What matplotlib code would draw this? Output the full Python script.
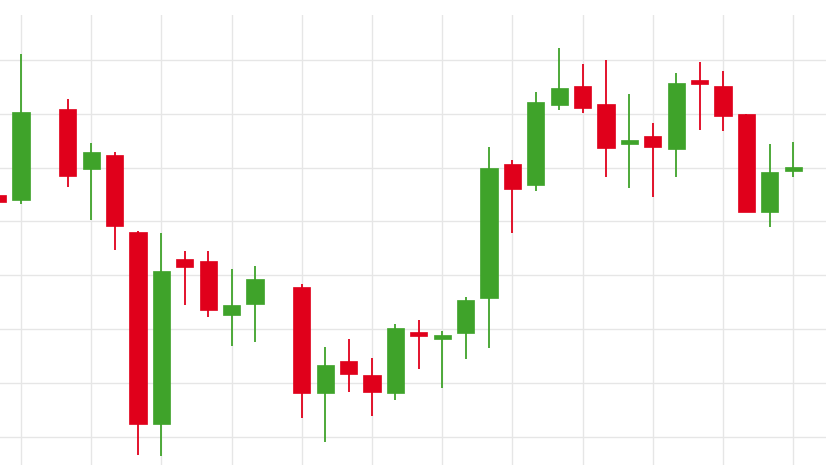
import matplotlib
matplotlib.use("Agg")
import matplotlib.pyplot as plt
import numpy as np

# candle positions (gaps at 1 and 11)
idx = [-1, 0, 2, 3, 4, 5, 6, 7, 8, 9, 10, 12, 13, 14, 15, 16, 17, 18, 19, 20,
       21, 22, 23, 24, 25, 26, 27, 28, 29, 30, 31, 32, 33]
opens = [144.9, 144.0, 160.9, 149.7, 152.3, 138.0, 102.4, 133.0, 132.7, 122.6, 124.7,
         127.8, 108.2, 114.1, 111.5, 108.2, 119.5, 118.2, 119.3, 125.8,
         150.6, 146.8, 161.6, 165.1, 161.8, 154.4, 155.8, 153.4, 166.2, 165.1, 159.9, 141.7, 149.4]
highs = [144.9, 171.1, 162.7, 154.5, 152.9, 138.2, 137.8, 134.5, 134.5, 131.2, 131.7,
         128.4, 116.7, 118.2, 114.7, 121.0, 121.7, 119.7, 126.0, 153.8,
         151.4, 164.0, 172.2, 169.2, 169.9, 163.6, 158.3, 167.5, 169.6, 167.9, 159.9, 154.4, 154.7]
lows = [143.6, 143.2, 146.4, 140.3, 134.7, 96.7, 96.5, 124.5, 122.3, 116.9, 117.6,
        103.5, 99.1, 108.3, 103.9, 106.9, 112.6, 109.1, 114.5, 116.5,
        137.8, 145.6, 160.7, 160.1, 148.2, 146.2, 144.5, 148.2, 157.0, 156.8, 141.7, 139.0, 148.2]
closes = [143.6, 160.3, 148.4, 152.9, 139.1, 102.4, 130.8, 131.5, 123.6, 124.5, 129.3,
          108.2, 113.4, 111.7, 108.3, 120.2, 118.7, 118.9, 125.4, 149.9,
          146.0, 162.2, 164.7, 161.0, 153.6, 155.1, 153.8, 165.7, 165.5, 159.6, 141.7, 149.2, 150.1]

RED = '#E0001B'
GREEN = '#3FA32A'

W, H = 826, 472
fig = plt.figure(figsize=(W / 100, H / 100), dpi=100)
fig.patch.set_facecolor('white')
ax = fig.add_axes([0, 7 / H, 1, 450 / H])

x = np.array(idx, dtype=float)
o = np.array(opens); c = np.array(closes)
hi = np.array(highs); lo = np.array(lows)
cols = [GREEN if cc >= oo else RED for oo, cc in zip(o, c)]

ax.vlines(x, lo, hi, colors=cols, linewidth=1.3, zorder=2)
bottoms = np.minimum(o, c)
heights = np.maximum(np.abs(c - o), 0.5)
ax.bar(x, heights, bottom=bottoms, width=0.73, color=cols, edgecolor=cols,
       linewidth=0.5, zorder=3)

ax.set_xlim(-21 / 23.4, (826 - 21) / 23.4)
ax.set_ylim(100 - 28 * 0.18553, 100 + 422 * 0.18553)
ax.set_xticks(np.arange(0, 34, 3))
ax.set_yticks(np.arange(100, 171, 10))
ax.grid(True, color='#e6e6e6', linewidth=1.0, zorder=0)
ax.tick_params(length=0, labelbottom=False, labelleft=False)
for s in ax.spines.values():
    s.set_visible(False)

fig.savefig('out.png', dpi=100, facecolor='white')
